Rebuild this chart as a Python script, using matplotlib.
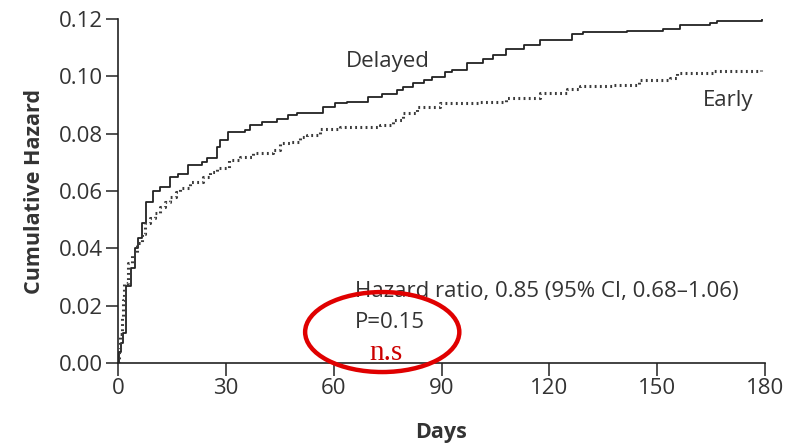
"""
Cumulative hazard, early vs delayed (step curves).
"""
import matplotlib
matplotlib.use("Agg")
import matplotlib.pyplot as plt
from matplotlib.patches import Ellipse

plt.rcParams['font.family'] = ['Open Sans', 'DejaVu Sans']

# Delayed (solid line)
delayed_days = [0, 0.3, 0.7, 1.4, 2.2, 3.6, 4.7, 5.6, 6.7, 7.8, 9.7, 11.7, 14.5, 16.7,
                19.5, 23.4, 24.8, 27.5, 28.4, 30.6, 35.3, 36.7, 40, 44.2, 47.3, 49.8,
                57, 60.4, 63.7, 69.6, 73.5, 77.6, 79.3, 82, 85, 87.4, 91, 93, 97, 101.6,
                104.3, 108, 113, 117.4, 126.3, 129.4, 141.6, 151.7, 156.4, 164.7,
                166.7, 179.2, 180]
delayed_vals = [0, 0.004, 0.007, 0.0105, 0.027, 0.033, 0.040, 0.0436, 0.049, 0.056,
                0.060, 0.0614, 0.065, 0.066, 0.069, 0.070, 0.0715, 0.0754, 0.0778,
                0.0806, 0.0813, 0.083, 0.084, 0.0851, 0.0865, 0.0872, 0.0893, 0.0907,
                0.091, 0.0928, 0.0938, 0.0952, 0.0963, 0.0977, 0.0987, 0.0998, 0.1015,
                0.1022, 0.1047, 0.106, 0.1074, 0.1095, 0.111, 0.1127, 0.1148, 0.1155,
                0.1158, 0.1165, 0.1179, 0.1186, 0.1193, 0.1207, 0.121]

# Early (dotted line)
early_days = [0, 0.3, 0.6, 1.0, 1.4, 1.7, 2.8, 3.9, 5.3, 6.7, 7.5, 8.9, 10.3, 11.7, 13,
              14.5, 16, 17.3, 20, 23.7, 25.5, 27.5, 31, 34, 37.6, 43, 45, 47.9, 50.6,
              52.6, 56.2, 61.8, 72.9, 76.5, 79.3, 83.2, 89.6, 100.7, 108, 117.4, 125,
              128.5, 137.7, 145, 153.6, 155.5, 165.6, 179]
early_vals = [0, 0.005, 0.010, 0.016, 0.022, 0.028, 0.035, 0.038, 0.042, 0.045, 0.049,
              0.0506, 0.0525, 0.0544, 0.056, 0.058, 0.0595, 0.061, 0.063, 0.065, 0.0665,
              0.068, 0.0708, 0.072, 0.0733, 0.0743, 0.0767, 0.0771, 0.0788, 0.0795,
              0.0816, 0.0823, 0.083, 0.0848, 0.0872, 0.0893, 0.0907, 0.091, 0.0924,
              0.0942, 0.0956, 0.0966, 0.097, 0.0987, 0.0994, 0.1012, 0.1019, 0.1022]

x_ticks = [0, 30, 60, 90, 120, 150, 180]
y_ticks = [0.00, 0.02, 0.04, 0.06, 0.08, 0.10, 0.12]

fig = plt.figure(figsize=(7.89, 4.47), dpi=100)
ax = fig.add_axes([0.1496, 0.1879, 0.8200, 0.7696])

color_txt = '#333333'
ax.plot(delayed_days, delayed_vals, drawstyle='steps-post', color='#222222', lw=1.3)
ax.plot(early_days, early_vals, drawstyle='steps-post', color='#3a3a3a', lw=2.2,
        linestyle=(0, (0.6, 1.1)))

ax.set_xlim(0, 180)
ax.set_ylim(0, 0.12)
ax.set_xticks(x_ticks)
ax.set_xticklabels([str(t) for t in x_ticks])
ax.set_yticks(y_ticks)
ax.set_yticklabels([f"{t:.2f}" for t in y_ticks])

for s in ['top', 'right']:
    ax.spines[s].set_visible(False)
for s in ['left', 'bottom']:
    ax.spines[s].set_linewidth(1.2)
    ax.spines[s].set_color('#222222')
ax.tick_params(direction='out', length=9, width=1.1, color='#222222',
               labelsize=16, labelcolor=color_txt, pad=2)

ax.set_xlabel('Days', fontsize=15.5, fontweight='bold', color=color_txt, labelpad=16)
ax.set_ylabel('Cumulative Hazard', fontsize=15.5, fontweight='bold', color=color_txt,
              labelpad=10)

ax.text(75, 0.105, 'Delayed', fontsize=16, color=color_txt, ha='center', va='center')
ax.text(169.7, 0.0914, 'Early', fontsize=16, color=color_txt, ha='center', va='center')
ax.text(65.8, 0.0251, 'Hazard ratio, 0.85 (95% CI, 0.68\u20131.06)', fontsize=16,
        color=color_txt, ha='left', va='center')
ax.text(65.8, 0.0143, 'P=0.15', fontsize=16, color=color_txt, ha='left', va='center')
ax.text(74.5, 0.0035, 'n.s', fontsize=21, color='#cc0000', ha='center', va='center',
        family='Liberation Serif')

oval = Ellipse((73.5, 0.0108), 42.9, 0.0279, fill=False, edgecolor='#e00000',
               lw=3.2, clip_on=False, zorder=5)
ax.add_patch(oval)

fig.savefig('out.png', dpi=100)
